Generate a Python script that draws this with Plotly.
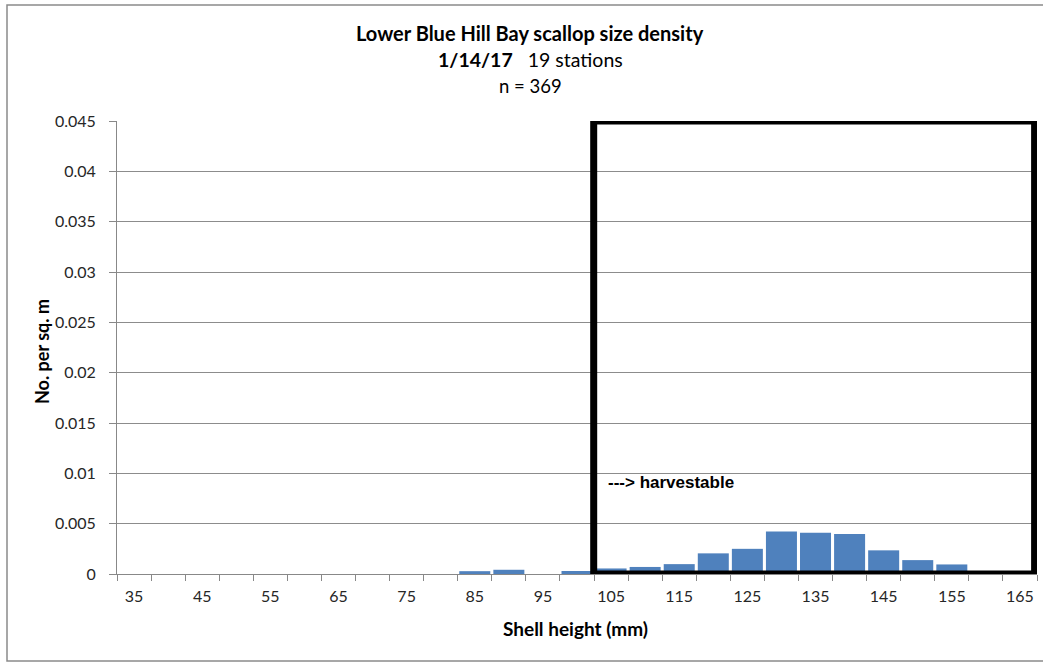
import plotly.graph_objects as go

shell_heights = [35, 40, 45, 50, 55, 60, 65, 70, 75, 80, 85, 90, 95, 100,
                 105, 110, 115, 120, 125, 130, 135, 140, 145, 150, 155, 160, 165]
density = [0, 0, 0, 0, 0, 0, 0, 0, 0, 0, 0.00028, 0.00042, 0, 0.0003,
           0.00055, 0.0007, 0.00098, 0.00205, 0.0025, 0.00423, 0.0041, 0.00397,
           0.00235, 0.00138, 0.00095, 0, 0]
x_tick_labels = [35, 45, 55, 65, 75, 85, 95, 105, 115, 125, 135, 145, 155, 165]
y_ticks = [0, 0.005, 0.01, 0.015, 0.02, 0.025, 0.03, 0.035, 0.04, 0.045]
y_tick_text = ["0", "0.005", "0.01", "0.015", "0.02", "0.025", "0.03", "0.035", "0.04", "0.045"]
harvest_box = (102.45, 167.15)  # shell height range of harvestable box

W, H = 1043, 664
L, R, T, B = 117, 1037, 121, 574
pw, ph = R - L, B - T


def px(xp):
    return (xp - L) / pw


def py(yp):
    return (B - yp) / ph


font_main = "Lato, Calibri, Carlito, sans-serif"
tick_font = dict(family=font_main, size=16, color="#262626")

fig = go.Figure()
fig.add_trace(go.Bar(
    x=shell_heights, y=density,
    marker=dict(color="#4F81BD", line=dict(width=0)),
    width=4.55,
))

fig.update_layout(
    width=W, height=H,
    margin=dict(l=L, r=W - R, t=T, b=H - B),
    paper_bgcolor="white", plot_bgcolor="white",
    showlegend=False,
    font=dict(family=font_main, size=13, color="#222"),
    xaxis=dict(
        range=[32.5, 167.5],
        tickmode="array", tickvals=x_tick_labels,
        ticktext=[str(v) for v in x_tick_labels],
        ticks="", showgrid=False, zeroline=False,
        showline=True, linecolor="#888", linewidth=1,
        tickfont=tick_font, ticklabelstandoff=8,
        minor=dict(tickmode="linear", tick0=32.5, dtick=5, ticks="outside",
                   ticklen=6, tickcolor="#888", showgrid=False),
    ),
    yaxis=dict(
        range=[0, 0.045],
        tickmode="array", tickvals=y_ticks, ticktext=y_tick_text,
        ticks="outside", ticklen=7, tickcolor="#888",
        showgrid=True, gridcolor="#8c8c8c", gridwidth=1,
        zeroline=False, showline=True, linecolor="#888", linewidth=1,
        tickfont=tick_font, ticklabelstandoff=10,
    ),
    bargap=0.09,
)

shapes = [
    dict(type="rect", xref="x", yref="y",
         x0=harvest_box[0], x1=harvest_box[1], y0=0, y1=0.045,
         line=dict(color="black", width=7), fillcolor="rgba(0,0,0,0)", layer="above"),
    dict(type="rect", xref="paper", yref="paper",
         x0=px(7), x1=px(1048), y0=py(661), y1=py(5),
         line=dict(color="#8a8a8a", width=1.5), fillcolor="rgba(0,0,0,0)", layer="below"),
]
fig.update_layout(shapes=shapes)

annotations = [
    dict(text="<b>Lower Blue Hill Bay scallop size density</b>", x=px(530), y=py(33),
         font=dict(family=font_main, size=20, color="black")),
    dict(text="<b>1/14/17</b>   19 stations", x=px(530), y=py(60),
         font=dict(family=font_main, size=19.5, color="black")),
    dict(text="n = 369", x=px(530), y=py(86),
         font=dict(family=font_main, size=18.5, color="black")),
    dict(text="<b>Shell height (mm)</b>", x=px(575), y=py(628),
         font=dict(family=font_main, size=19, color="black")),
    dict(text="<b>No. per sq. m</b>", x=px(42), y=py(352), textangle=-90,
         font=dict(family=font_main, size=18, color="black")),
]
for a in annotations:
    a.update(xref="paper", yref="paper", showarrow=False, xanchor="center", yanchor="middle")

annotations.append(dict(
    text="<b>---> harvestable</b>", xref="x", yref="y", x=104.2, y=0.0091,
    xanchor="left", yanchor="middle", showarrow=False,
    font=dict(family="Liberation Sans, Arial, sans-serif", size=17, color="black"),
))
fig.update_layout(annotations=annotations)

fig.write_html("out.html", config={"displayModeBar": False},
               post_script="document.body.style.margin='0';document.body.style.overflow='hidden';")
